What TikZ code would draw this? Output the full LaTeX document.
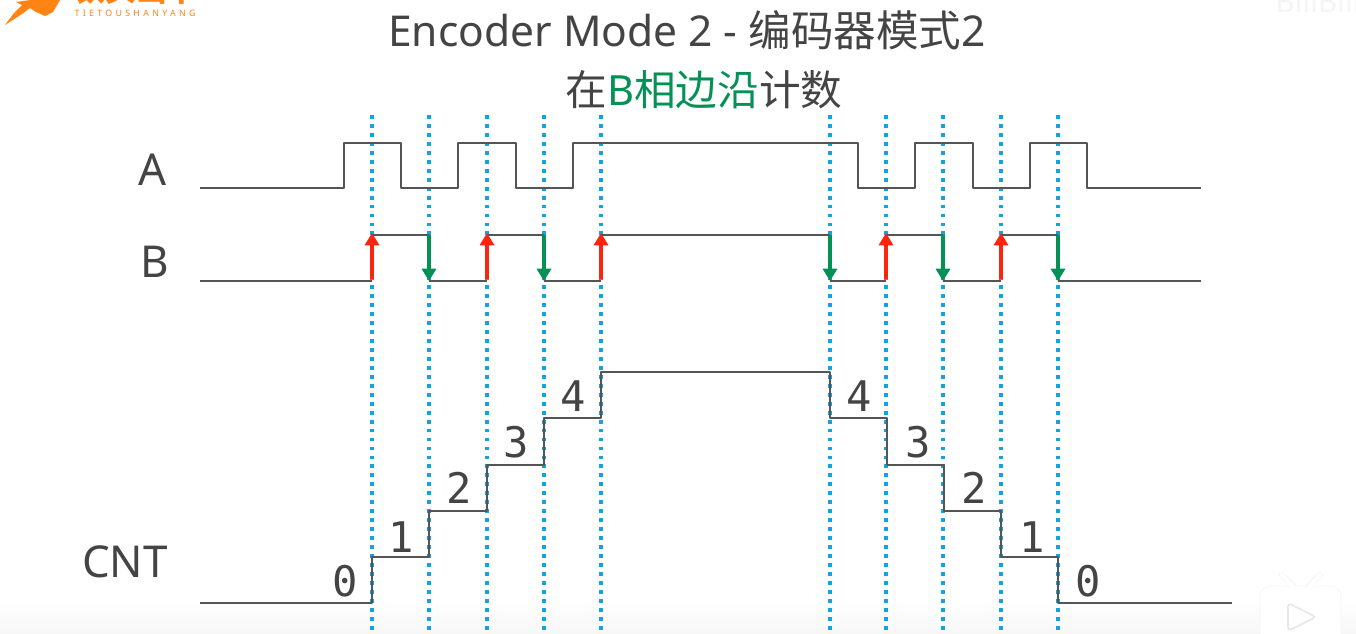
\documentclass[tikz,border=0pt]{standalone}
\usepackage{fontspec}
\usetikzlibrary{arrows.meta,calc,positioning}
\setmainfont{Noto Sans}
\newfontfamily\cjk{Noto Sans CJK SC}
\newfontfamily\digitfont{DejaVu Sans Mono}
\newfontfamily\logofont[LetterSpace=38]{Noto Sans}
\definecolor{wavegray}{RGB}{85,85,85}
\definecolor{textgray}{RGB}{68,68,68}
\definecolor{dotblue}{RGB}{20,163,224}
\definecolor{edgered}{RGB}{252,35,15}
\definecolor{edgegreen}{RGB}{5,145,85}
\definecolor{logoorange}{RGB}{255,132,20}

\begin{document}
\begin{tikzpicture}[x=.02cm,y=-.02cm,
        wave/.style={draw=wavegray,line width=1.5pt,line join=round},
        tick/.style={draw=dotblue,line width=2.2pt,dash pattern=on 2.2pt off 2.9pt},
        uparrow/.style={draw=edgered,line width=2.2pt,-{Triangle[length=7pt,width=8pt]}},
        downarrow/.style={draw=edgegreen,line width=2.2pt,-{Triangle[length=7pt,width=8pt]}},
        signal/.style={text=textgray,inner sep=0pt,font=\fontsize{25}{28}\selectfont},
        count/.style={text=textgray,inner sep=0pt,font=\digitfont\fontsize{24}{26}\selectfont},
        headline/.style={text=textgray,inner sep=0pt,font=\fontsize{24.2}{28}\selectfont}]
        \useasboundingbox (0,0) rectangle (1356,633);
        \clip (0,0) rectangle (1356,633);
        \fill[white] (0,0) rectangle (1356,633);

        % Faint band along the lower edge and the player badge.
        \shade[top color=white,bottom color=black!3] (0,600) rectangle (1356,633);
        \draw[black!4,fill=white,rounded corners=6pt] (1260,586) rectangle (1341,645);
        \draw[black!4,line width=3.5pt,line cap=round] (1282,575)--(1293,586) (1320,575)--(1309,586);
        \draw[white,line width=2.5pt,line cap=round] (1282,575)--(1293,587) (1320,575)--(1309,587);
        \draw[black!9,line width=1pt,line join=round,rounded corners=2pt]
          (1288,603)--(1316,617)--(1288,631)--cycle;

        % Logo, cut off by the upper edge.
        \fill[logoorange] (5,25)--(14,13)--(22,5)--(16,2)--(30,0)--(60,0)--(53,12)
          --(45,16)--(36,12)--(30,8)--(22,14)--cycle;
        \node[text=logoorange,inner sep=0pt,font=\cjk\bfseries\fontsize{17.5}{20}\selectfont]
          (logocn) at (136,-10) {铁头山羊};
        \node[text=logoorange,inner sep=0pt,font=\logofont\fontsize{5}{6}\selectfont]
          (logoen) at (135,13) {TIETOUSHANYANG};
        \node[text=black!4,inner sep=0pt,font=\bfseries\fontsize{17}{20}\selectfont]
          (mark) at (1318,1) {BiliBili};

        % Title lines.
        \node[headline] (title) at (687,30) {Encoder Mode 2 - {\cjk 编码器模式}2};
        \node[headline,font=\fontsize{23.7}{28}\selectfont] (subtitle) at (704,90)
          {{\cjk 在}\textcolor{edgegreen}{B{\cjk 相边沿}}{\cjk 计数}};

        % Counting instants.
        \foreach \x in {372,429,487,544,601,830,886,943,1001,1058}
          \draw[tick] (\x,115)--(\x,633);

        % Signal names.
        \node[signal] (nameA) at (153,170) {A};
        \node[signal] (nameB) at (155,262) {B};
        \node[signal] (nameCNT) at (125,562) {CNT};

        % Phase A.
        \draw[wave] (200,188)-|(344,143)-|(401,188)-|(458,143)-|(516,188)-|(573,143)
          -|(858,188)-|(915,143)-|(973,188)-|(1030,143)-|(1087,188)--(1201,188);

        % Phase B, its edges are drawn as arrows.
        \draw[wave] (200,281)--(372,281) (372,235)--(429,235) (429,281)--(487,281)
          (487,235)--(544,235) (544,281)--(601,281) (601,235)--(830,235)
          (830,281)--(886,281) (886,235)--(943,235) (943,281)--(1001,281)
          (1001,235)--(1058,235) (1058,281)--(1201,281);
        \foreach \x in {372,487,601,886,1001}
          \draw[uparrow] (\x,279)--(\x,233);
        \foreach \x in {429,544,830,943,1058}
          \draw[downarrow] (\x,235)--(\x,281);

        % Counter staircase.
        \draw[wave] (200,603)-|(372,557)-|(429,511)-|(487,465)-|(544,418)-|(601,372)
          -|(830,418)-|(887,465)-|(944,511)-|(1001,557)-|(1058,603)--(1232,603);
        \node[count] (up0) at (345,581) {0};
        \node[count] (up1) at (401,537) {1};
        \node[count] (up2) at (459,488) {2};
        \node[count] (up3) at (516,442) {3};
        \node[count] (up4) at (573,396) {4};
        \node[count] (down4) at (859,396) {4};
        \node[count] (down3) at (918,442) {3};
        \node[count] (down2) at (974,488) {2};
        \node[count] (down1) at (1032,537) {1};
        \node[count] (down0) at (1088,581) {0};
\end{tikzpicture}
\end{document}
